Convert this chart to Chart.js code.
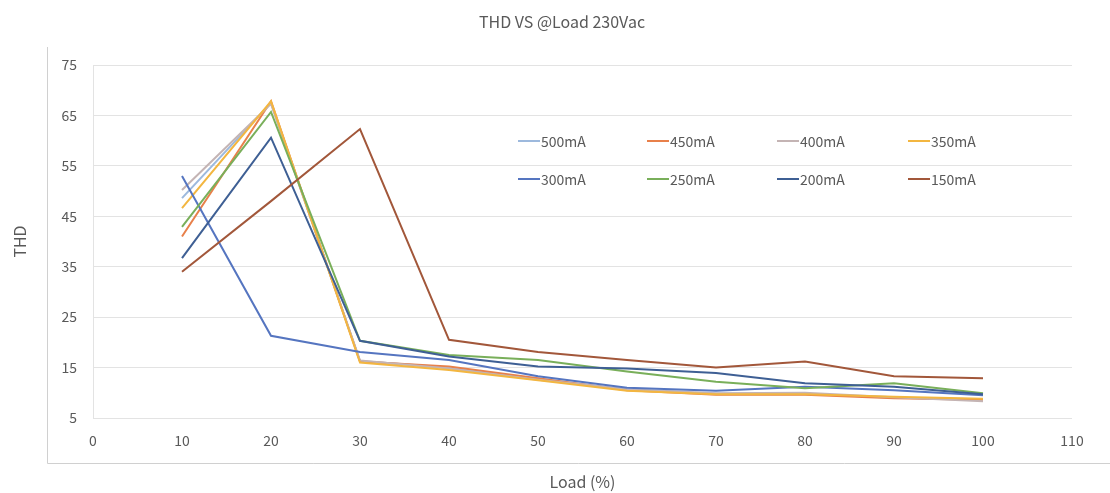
<!DOCTYPE html>
<html>
<head>
<meta charset="utf-8">
<script src="https://cdn.jsdelivr.net/npm/chart.js@4.4.1/dist/chart.umd.min.js"></script>
<style>
html,body{margin:0;padding:0;background:#fff;}
#wrap{width:1110px;height:493px;position:relative;}
</style>
</head>
<body>
<div id="wrap"><canvas id="c" width="1110" height="493"></canvas></div>
<script>
const loads = [10, 20, 30, 40, 50, 60, 70, 80, 90, 100];
const seriesNames = ['500mA', '450mA', '400mA', '350mA', '300mA', '250mA', '200mA', '150mA'];
const s500 = [48.6, 67.5, 16.3, 15.0, 12.7, 10.6, 9.8, 9.8, 9.0, 8.7];
const s450 = [41.0, 67.8, 16.2, 15.2, 12.9, 10.5, 9.6, 9.6, 8.9, 8.6];
const s400 = [50.2, 67.3, 16.4, 14.8, 12.6, 10.7, 9.9, 10.0, 9.1, 8.3];
const s350 = [46.6, 67.8, 16.0, 14.5, 12.5, 10.4, 9.7, 9.7, 9.2, 8.8];
const s300 = [53.0, 21.3, 18.1, 16.5, 13.3, 11.0, 10.4, 11.2, 10.5, 9.5];
const s250 = [42.9, 65.7, 20.3, 17.5, 16.5, 14.2, 12.2, 10.9, 11.9, 9.9];
const s200 = [36.7, 60.6, 20.3, 17.2, 15.2, 14.8, 13.9, 11.9, 11.2, 9.7];
const s150 = [34.0, 48.0, 62.3, 20.5, 18.1, 16.5, 15.0, 16.2, 13.3, 12.9];
const titleText = 'THD VS @Load 230Vac';
const xTitle = 'Load (%)';
const yTitle = 'THD';

const allSeries = [s500, s450, s400, s350, s300, s250, s200, s150];
const colors = ['#9DB9DD', '#E8804A', '#C4B4B4', '#F3B640', '#5575C0', '#79AF5A', '#3E5F94', '#A2573A'];
const FONT = "'Noto Sans CJK SC', 'Noto Sans', sans-serif";
const TXT = '#595959';

const datasets = allSeries.map((s, i) => ({
  label: seriesNames[i],
  data: s.map((v, j) => ({x: loads[j], y: v})),
  borderColor: colors[i],
  backgroundColor: colors[i],
  borderWidth: 2,
  pointRadius: 0,
  tension: 0,
  fill: false,
  order: allSeries.length - i
}));

const decor = {
  id: 'decor',
  beforeDraw(chart) {
    const ctx = chart.ctx;
    ctx.save();
    ctx.fillStyle = '#fff';
    ctx.fillRect(0, 0, chart.width, chart.height);
    ctx.strokeStyle = '#D0D0D0';
    ctx.lineWidth = 1;
    ctx.beginPath();
    ctx.moveTo(47.5, 47);
    ctx.lineTo(47.5, 463.5);
    ctx.lineTo(chart.width, 463.5);
    ctx.stroke();
    ctx.restore();
  },
  afterDraw(chart) {
    const ctx = chart.ctx;
    ctx.save();
    ctx.fillStyle = TXT;
    ctx.font = "16px " + FONT;
    ctx.textAlign = 'center';
    ctx.textBaseline = 'middle';
    ctx.fillText(titleText, 562, 22);
    // legend
    const cols = [518, 647, 777, 908];
    const rows = [141, 179];
    ctx.font = "14px " + FONT;
    ctx.textAlign = 'left';
    chart.data.datasets.forEach((ds, i) => {
      const cx = cols[i % 4], cy = rows[Math.floor(i / 4)];
      ctx.strokeStyle = ds.borderColor;
      ctx.lineWidth = 2;
      ctx.beginPath();
      ctx.moveTo(cx, cy);
      ctx.lineTo(cx + 22, cy);
      ctx.stroke();
      ctx.fillStyle = TXT;
      ctx.fillText(ds.label, cx + 23, cy + 1);
    });
    ctx.restore();
  }
};

new Chart(document.getElementById('c'), {
  type: 'line',
  data: { datasets },
  options: {
    responsive: false,
    animation: false,
    layout: { padding: { top: 65, right: 38, left: 0, bottom: 0 } },
    plugins: { legend: { display: false }, title: { display: false }, tooltip: { enabled: false } },
    scales: {
      x: {
        type: 'linear', min: 0, max: 110,
        ticks: { stepSize: 10, color: TXT, font: { size: 14, family: FONT }, padding: 14 },
        grid: { display: false, drawTicks: false },
        border: { display: false },
        title: { display: true, text: xTitle, color: TXT, font: { size: 16, family: FONT }, padding: { top: 4, bottom: 1 } },
        afterFit(scale) { scale.height = 75; }
      },
      y: {
        min: 5, max: 75,
        ticks: { stepSize: 10, color: TXT, font: { size: 14, family: FONT }, padding: 16 },
        grid: { color: '#E3E3E3', lineWidth: 1, drawTicks: false },
        border: { display: true, color: '#E3E3E3' },
        title: { display: true, text: yTitle, color: TXT, font: { size: 16, family: FONT }, padding: { top: 10, bottom: 0 } },
        afterFit(scale) { scale.width = 93; }
      }
    }
  },
  plugins: [decor]
});
</script>
</body>
</html>
